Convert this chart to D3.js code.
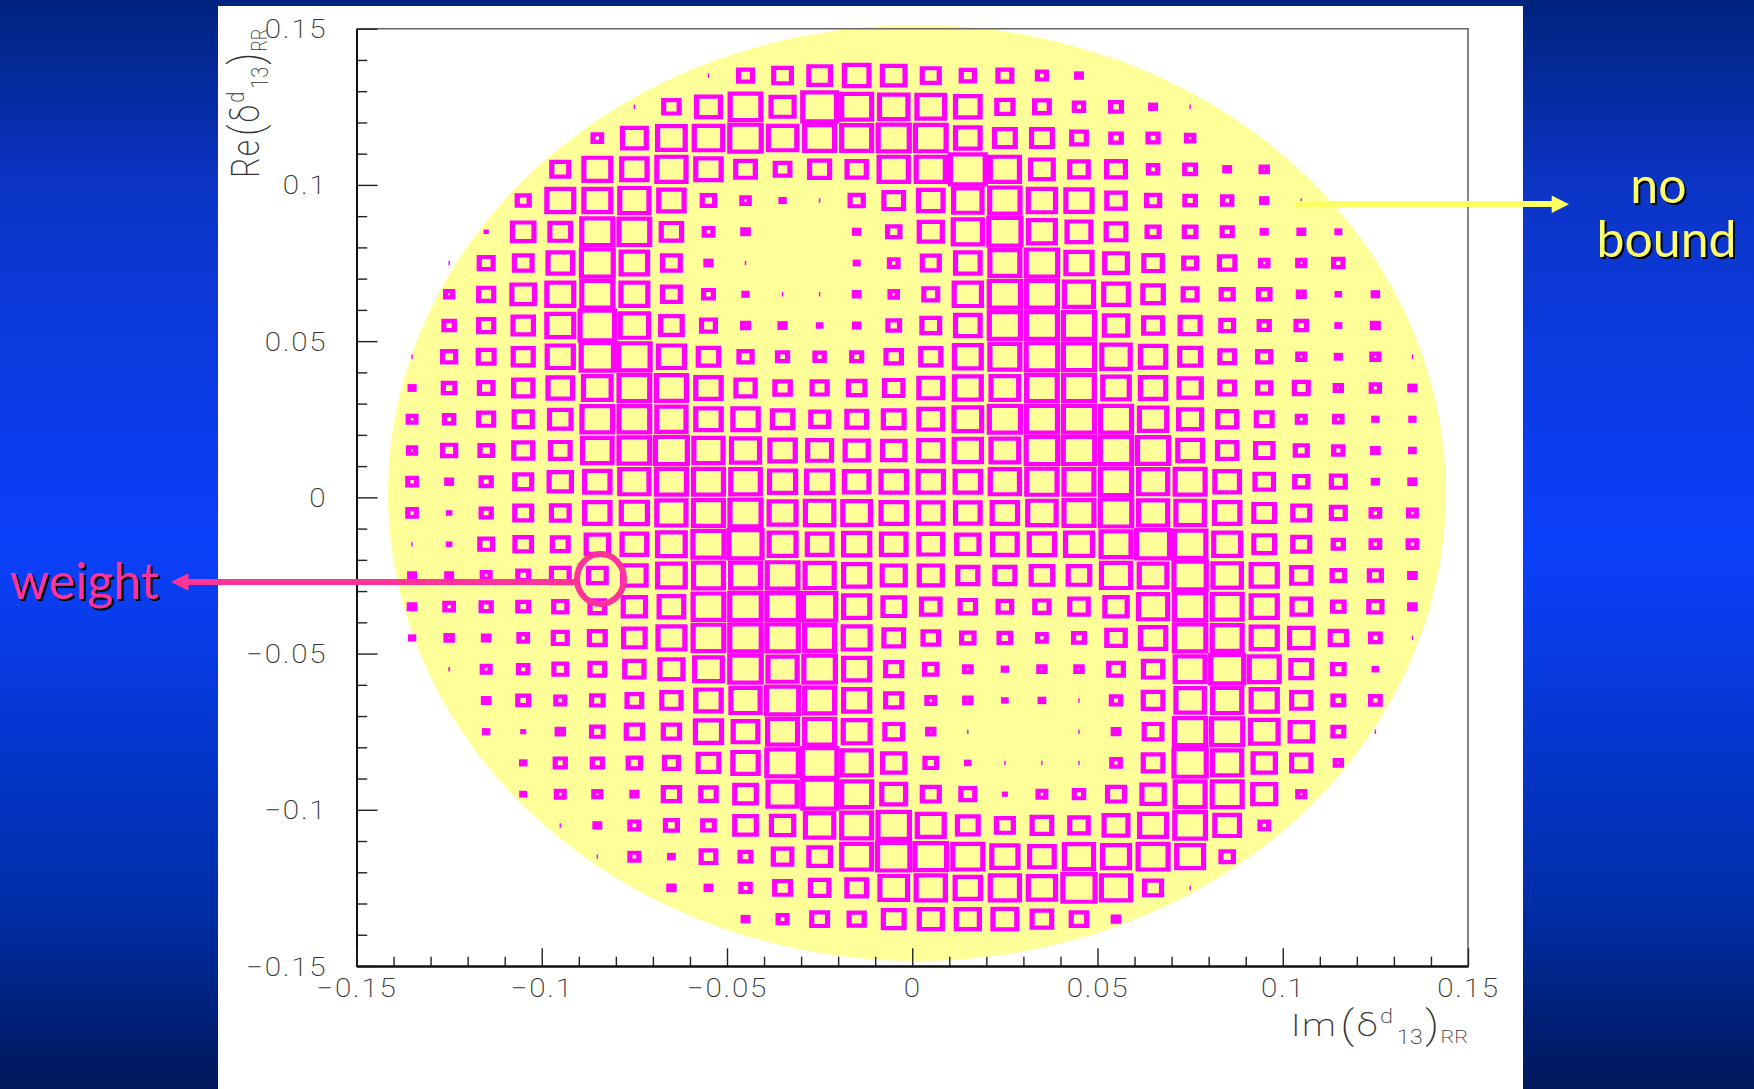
<!DOCTYPE html>
<html>
<head>
<meta charset="utf-8">
<script src="https://cdn.jsdelivr.net/npm/d3@7"></script>
<style>
    html, body { margin: 0; padding: 0; background: #fff; overflow: hidden; }
    svg { display: block; }
    .tick-label { font-family: Roboto, "Liberation Sans", sans-serif; font-weight: 200; font-size: 25px; fill: #333; letter-spacing: 1.5px; }
    .title { font-family: Roboto, "Liberation Sans", sans-serif; font-weight: 200; fill: #333; }
    .note { font-family: Lato, "Noto Sans", sans-serif; font-size: 50px; }
</style>
</head>
<body>
<svg id="slide" width="1754" height="1089"></svg>
<script>
// bin centres of the 2D histogram
const imCenters = d3.range(28).map((i) => (i * 10 - 135) / 1000);
const reCenters = d3.range(28).map((i) => (135 - i * 10) / 1000);

const xMajor = [-0.15, -0.1, -0.05, 0, 0.05, 0.1, 0.15];
const yMajor = [-0.15, -0.1, -0.05, 0, 0.05, 0.1, 0.15];
const xLabels = ['\u22120.15', '\u22120.1', '\u22120.05', '0', '0.05', '0.1', '0.15'];
const yLabels = ['\u22120.15', '\u22120.1', '\u22120.05', '0', '0.05', '0.1', '0.15'];
const minorSteps = d3.range(-14, 15).filter((i) => i % 5 !== 0).map((i) => i / 100);

// box size of every bin, top row first
const weights = [
    [0,0,0,0,0,0,0,0,3,50,60,70,78,73,58,48,50,37,26,0,0,0,0,0,0,0,0,0],
    [0,0,0,0,0,0,3,54,76,94,74,102,92,88,86,78,56,52,38,42,26,3,0,0,0,0,0,0],
    [0,0,0,0,0,36,76,86,88,96,88,92,92,95,94,78,68,68,52,41,40,33,0,0,0,0,0,0],
    [0,0,0,0,58,84,80,90,80,65,52,66,64,90,90,105,90,73,62,63,38,42,26,30,0,0,0,0],
    [0,0,0,45,84,84,90,80,46,33,22,4,48,65,78,88,93,85,82,62,48,41,38,27,3,0,0,0],
    [0,0,14,70,68,95,94,67,36,28,0,0,25,46,74,90,98,84,76,65,45,44,40,24,26,21,0,0],
    [0,2,50,60,78,97,83,60,27,4,0,0,21,36,58,78,92,96,82,73,62,47,54,33,32,38,0,0],
    [0,32,53,73,84,95,84,60,39,22,3,3,26,33,50,85,95,95,90,78,67,50,45,44,29,20,25,0],
    [0,41,53,67,84,104,88,70,50,29,27,20,25,44,60,78,95,95,95,75,63,66,47,40,41,21,29,0],
    [3,48,55,66,82,98,96,82,67,48,40,38,40,54,66,84,92,96,95,88,80,68,52,48,32,24,32,3],
    [24,44,49,64,78,86,94,92,80,64,54,53,57,62,76,84,86,94,94,83,80,72,52,48,50,30,35,27],
    [34,38,53,61,70,94,94,90,80,80,67,60,65,68,76,86,95,95,95,95,85,74,63,55,34,33,22,22],
    [32,48,46,63,65,91,94,97,90,87,80,76,74,72,77,85,86,96,96,96,95,78,64,59,45,38,28,23],
    [36,26,40,58,72,80,90,92,92,91,82,82,78,80,80,80,90,93,92,95,90,92,78,62,48,50,24,27],
    [36,17,40,58,60,80,82,90,92,95,84,88,86,80,78,78,80,88,92,96,90,88,80,68,58,50,36,34],
    [3,17,47,57,55,72,78,86,95,100,84,78,82,78,76,72,78,80,84,92,100,96,84,68,58,40,36,36],
    [26,26,34,42,60,60,75,86,92,92,94,90,82,74,74,66,66,70,70,90,86,98,88,82,64,46,45,28],
    [28,36,40,42,48,52,72,78,94,96,96,98,82,70,62,54,49,51,62,72,90,96,92,82,62,44,48,28],
    [22,30,28,36,50,55,70,84,94,96,96,92,84,65,54,46,44,36,42,62,80,96,92,82,75,56,39,3],
    [0,4,34,38,47,52,64,74,86,96,90,96,82,56,46,31,22,30,30,52,64,92,100,92,68,44,20,0],
    [0,0,28,42,37,44,52,64,80,90,98,92,82,56,34,30,20,23,3,38,65,88,90,82,64,42,39,0],
    [0,0,22,16,30,44,56,56,82,78,92,92,84,60,30,3,0,0,3,28,60,96,95,86,72,42,3,0],
    [0,0,0,22,40,40,46,50,68,80,96,104,90,72,44,20,3,3,3,36,65,98,90,72,64,30,0,0],
    [0,0,0,21,34,32,27,56,54,70,90,102,92,76,58,50,16,34,38,58,72,92,92,74,32,0,0,0],
    [0,0,0,0,3,26,37,45,44,70,72,88,92,96,84,68,58,65,62,76,84,94,78,36,0,0,0,0],
    [0,0,0,0,0,3,37,23,52,42,62,70,92,98,96,92,82,78,90,84,92,84,46,0,0,0,0,0],
    [0,0,0,0,0,0,0,27,26,38,55,62,65,86,90,80,90,85,98,90,58,3,0,0,0,0,0,0],
    [0,0,0,0,0,0,0,0,0,26,37,55,53,68,74,74,76,65,54,28,0,0,0,0,0,0,0,0]
];

const plot = { left: 356.5, right: 1468, top: 28.7, bottom: 966 };
const xScale = d3.scaleLinear().domain([-0.15, 0.15]).range([plot.left, plot.right]);
const yScale = d3.scaleLinear().domain([-0.15, 0.15]).range([plot.bottom, plot.top]);
// a weight of 97 fills the bin sideways, 96 fills it upwards
const boxW = d3.scaleLinear().domain([0, 97]).range([0, xScale(0.01) - xScale(0)]);
const boxH = d3.scaleLinear().domain([0, 96]).range([0, yScale(0) - yScale(0.01)]);

const svg = d3.select('#slide');

// slide background
const grad = svg.append('defs').append('linearGradient')
    .attr('id', 'bg').attr('x1', 0).attr('y1', 0).attr('x2', 0).attr('y2', 1);
grad.append('stop').attr('offset', '0%').attr('stop-color', '#00237e');
grad.append('stop').attr('offset', '18%').attr('stop-color', '#0c35c8');
grad.append('stop').attr('offset', '50%').attr('stop-color', '#0b40fb');
grad.append('stop').attr('offset', '83%').attr('stop-color', '#002ea8');
grad.append('stop').attr('offset', '100%').attr('stop-color', '#00185a');

svg.append('rect').attr('width', 1754).attr('height', 1089).attr('fill', 'url(#bg)');
svg.append('rect').attr('x', 218).attr('y', 6).attr('width', 1305).attr('height', 1083).attr('fill', '#fff');

// allowed region
svg.append('ellipse')
    .attr('cx', 917).attr('cy', 493).attr('rx', 529).attr('ry', 468)
    .attr('fill', '#ffff99');

// frame
svg.append('path')
    .attr('d', `M${plot.left},${plot.top}H${plot.right}V${plot.bottom}`)
    .attr('fill', 'none').attr('stroke', '#666').attr('stroke-width', 1.6);

// axes, long and short ticks point inwards
const yMinorAxis = d3.axisLeft(yScale).tickValues(minorSteps).tickSizeInner(-10.7).tickSizeOuter(0).tickFormat('');
const yMajorAxis = d3.axisLeft(yScale).tickValues(yMajor).tickSizeInner(-21).tickSizeOuter(0)
    .tickPadding(24.5).tickFormat((d, i) => yLabels[i]);
const xMinorAxis = d3.axisBottom(xScale).tickValues(minorSteps).tickSizeInner(-9.3).tickSizeOuter(0).tickFormat('');
const xMajorAxis = d3.axisBottom(xScale).tickValues(xMajor).tickSizeInner(-17.7).tickSizeOuter(0)
    .tickPadding(13).tickFormat((d, i) => xLabels[i]);

function drawAxis(axis, transform) {
    const g = svg.append('g').attr('transform', transform).call(axis);
    g.selectAll('line').attr('stroke', '#222').attr('stroke-width', 1.4);
    g.select('.domain').attr('stroke', '#111').attr('stroke-width', 2);
    g.selectAll('text').attr('class', 'tick-label').attr('font-family', null).attr('font-size', null)
        .attr('transform', 'scale(1.186,1)');
    return g;
}

drawAxis(yMinorAxis, `translate(${plot.left},0)`);
drawAxis(yMajorAxis, `translate(${plot.left},0)`).selectAll('text').attr('dy', '0.36em');
drawAxis(xMinorAxis, `translate(0,${plot.bottom})`);
drawAxis(xMajorAxis, `translate(0,${plot.bottom})`);

// weight boxes
const cells = weights.flatMap((row, r) =>
    row.map((v, c) => ({ im: imCenters[c], re: reCenters[r], v })).filter((d) => d.v > 0)
);
const BORDER_X = 5.2;
const BORDER_Y = 4.2;

function boxPath(d) {
    const cx = xScale(d.im);
    const cy = yScale(d.re);
    const w = Math.max(boxW(d.v), 1.4);
    const h = d.v <= 5 ? 4.5 : boxH(d.v);
    let p = `M${cx - w / 2},${cy - h / 2}h${w}v${h}h${-w}Z`;
    const iw = w - 2 * BORDER_X;
    const ih = h - 2 * BORDER_Y;
    if (iw > 0 && ih > 0) {
        p += `M${cx - iw / 2},${cy - ih / 2}h${iw}v${ih}h${-iw}Z`;
    }
    return p;
}

svg.append('g').selectAll('path')
    .data(cells)
    .join('path')
    .attr('d', boxPath)
    .attr('fill', '#ff00ff')
    .attr('fill-rule', 'evenodd');

// axis titles
function axisTitle(transform, anchor) {
    const t = svg.append('text').attr('class', 'title')
        .attr('transform', transform)
        .attr('text-anchor', anchor)
        .attr('font-size', 32);
    return t;
}

function fillTitle(t, head) {
    t.append('tspan').attr('letter-spacing', 1).text(head);
    t.append('tspan').attr('font-size', 38).attr('dy', 2).attr('dx', 3).text('(');
    t.append('tspan').attr('dy', -2).attr('dx', 2).text('\u03b4');
    t.append('tspan').attr('font-size', 20).attr('dy', -13).attr('dx', 2).text('d');
    t.append('tspan').attr('font-size', 20).attr('dy', 21).attr('dx', 3).text('13');
    t.append('tspan').attr('font-size', 38).attr('dy', -6).attr('dx', 2).text(')');
    t.append('tspan').attr('font-size', 18).attr('dy', 5).attr('dx', 1).text('RR');
}

fillTitle(axisTitle('translate(1468,1036) scale(1.186,1)', 'end'), 'Im');
fillTitle(axisTitle('translate(259,178) rotate(-90) scale(1,1.186)', 'start'), 'Re');

// annotations
const YELLOW = '#ffff66';
const PINK = '#ff3399';

svg.append('line').attr('x1', 1295).attr('x2', 1553).attr('y1', 204).attr('y2', 204)
    .attr('stroke', YELLOW).attr('stroke-width', 6);
svg.append('path').attr('d', 'M1569,204.3L1551.7,195.6V213Z').attr('fill', YELLOW);

svg.append('line').attr('x1', 187).attr('x2', 575).attr('y1', 582).attr('y2', 582)
    .attr('stroke', PINK).attr('stroke-width', 6);
svg.append('path').attr('d', 'M171,582L188.5,573.3V590.7Z').attr('fill', PINK);
svg.append('ellipse').attr('cx', 600.5).attr('cy', 579).attr('rx', 23.5).attr('ry', 25)
    .attr('fill', 'none').attr('stroke', PINK).attr('stroke-width', 6);

function note(label, x, y, color) {
    svg.append('text').attr('class', 'note')
        .attr('x', x).attr('y', y)
        .attr('text-anchor', 'middle')
        .attr('fill', color)
        .style('filter', 'drop-shadow(2px 2px 0 #000)')
        .text(label);
}

note('no', 1658.5, 202.7, YELLOW);
note('bound', 1666.5, 256.7, YELLOW);
note('weight', 84.5, 599, PINK);
</script>
</body>
</html>
